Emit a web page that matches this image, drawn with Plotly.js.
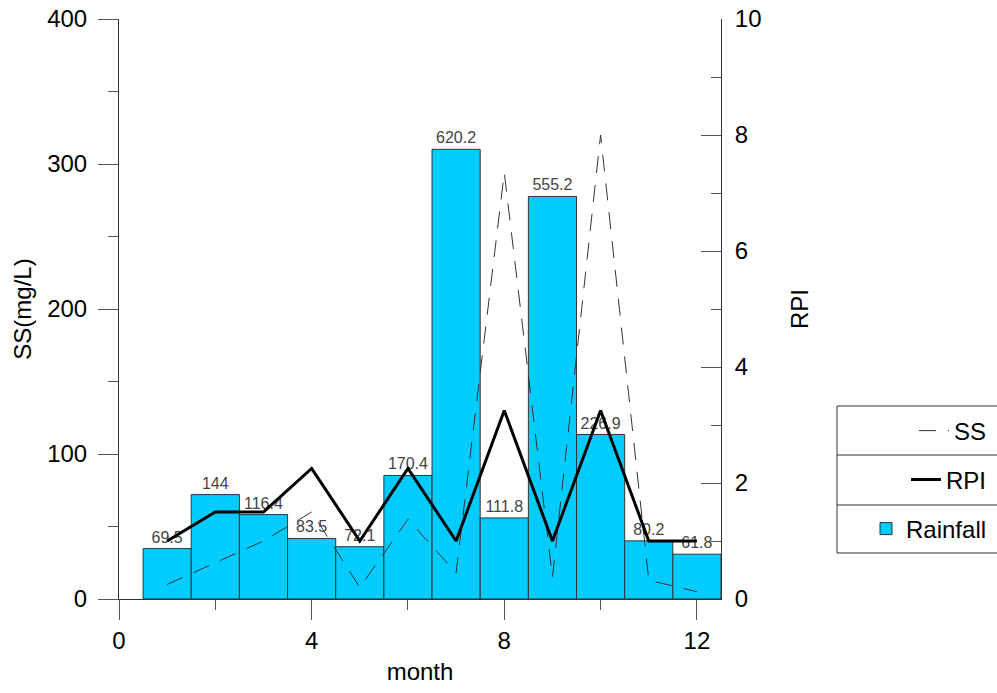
<!DOCTYPE html>
<html>
<head>
<meta charset="utf-8">
<script src="https://cdn.plot.ly/plotly-3.0.1.min.js"></script>
<style>html,body{margin:0;padding:0;background:#fff;}#chart{width:997px;height:693px;}</style>
</head>
<body>
<div id="chart"></div>
<script>
// ---- data ----
const months   = [1, 2, 3, 4, 5, 6, 7, 8, 9, 10, 11, 12];
const rainfall = [69.5, 144, 116.4, 83.5, 72.1, 170.4, 620.2, 111.8, 555.2, 226.9, 80.2, 61.8];
const ss       = [10, 25, 40, 60, 8, 55, 18, 294, 15, 320, 13, 5];
const rpi      = [1.0, 1.5, 1.5, 2.25, 1.0, 2.25, 1.0, 3.25, 1.0, 3.25, 1.0, 1.0];
const rainfallLabels = rainfall.map(String);

const FONT = 'Liberation Sans, Arial, Helvetica, sans-serif';
const AX = '#333333';

// plot area in pixels (for converting legend-box positions to paper coords)
const L = 119, R = 721, T = 19, B = 599, W = 997, H = 693;
const px = v => (v - L) / (R - L);
const py = v => (B - v) / (B - T);

const traces = [
  {
    type: 'bar', name: 'Rainfall', x: months, y: rainfall, yaxis: 'y',
    width: 1,
    marker: {color: '#00CCFF', line: {color: '#333333', width: 1}},
    text: rainfallLabels, textposition: 'outside', constraintext: 'none',
    cliponaxis: false,
    textfont: {family: FONT, size: 16, color: '#444444'},
    legend: 'legend3', hoverinfo: 'skip'
  },
  {
    type: 'scatter', mode: 'lines', name: 'SS', x: months, y: ss, yaxis: 'y2',
    line: {color: '#333333', width: 1, dash: '17px,12px'},
    legend: 'legend', hoverinfo: 'skip'
  },
  {
    type: 'scatter', mode: 'lines', name: 'RPI', x: months, y: rpi, yaxis: 'y3',
    line: {color: '#000000', width: 3},
    legend: 'legend2', hoverinfo: 'skip'
  }
];

const legBase = {
  xanchor: 'right', yanchor: 'middle', bgcolor: 'rgba(0,0,0,0)', borderwidth: 0,
  font: {family: FONT, size: 24, color: '#000'}
};

const layout = {
  width: W, height: H,
  margin: {l: L, r: W - R, t: T, b: H - B, pad: 0, autoexpand: false},
  paper_bgcolor: '#ffffff', plot_bgcolor: '#ffffff',
  font: {family: FONT, size: 24, color: '#000'},
  bargap: 0,
  showlegend: true,
  xaxis: {
    range: [0, 12.5], dtick: 4, tick0: 0,
    showgrid: false, zeroline: false,
    showline: true, linecolor: AX, linewidth: 1,
    ticks: 'outside', ticklen: 20, tickcolor: '#555', tickwidth: 1,
    minor: {dtick: 2, ticks: 'outside', ticklen: 10, tickcolor: '#555', showgrid: false},
    tickfont: {family: FONT, size: 24, color: '#000'},
    title: {text: 'month', font: {family: FONT, size: 24, color: '#000'}, standoff: 10}
  },
  yaxis: {
    range: [0, 800], visible: false, showgrid: false, zeroline: false, fixedrange: true
  },
  yaxis2: {
    overlaying: 'y', side: 'left', range: [0, 400], dtick: 100,
    showgrid: false, zeroline: false,
    showline: true, linecolor: AX, linewidth: 1,
    ticks: 'outside', ticklen: 20, tickcolor: '#555', tickwidth: 1,
    minor: {dtick: 50, ticks: 'outside', ticklen: 10, tickcolor: '#555', showgrid: false},
    ticklabelstandoff: 6,
    tickfont: {family: FONT, size: 24, color: '#000'},
    title: {text: 'SS(mg/L)', font: {family: FONT, size: 24, color: '#000'}, standoff: 8}
  },
  yaxis3: {
    overlaying: 'y', side: 'right', range: [0, 10], dtick: 2,
    showgrid: false, zeroline: false,
    showline: true, linecolor: AX, linewidth: 1,
    ticks: 'inside', ticklen: 20, tickcolor: '#555', tickwidth: 1,
    minor: {dtick: 1, ticks: 'inside', ticklen: 10, tickcolor: '#555', showgrid: false},
    ticklabelstandoff: 8,
    tickfont: {family: FONT, size: 24, color: '#000'},
    title: {text: 'RPI', font: {family: FONT, size: 24, color: '#000'}, standoff: 30}
  },
  legend:  Object.assign({}, legBase, {x: px(992), y: py(431)}),
  legend2: Object.assign({}, legBase, {x: px(992), y: py(480)}),
  legend3: Object.assign({}, legBase, {x: px(992), y: py(529)}),
  shapes: [
    {type: 'rect', xref: 'paper', yref: 'paper', x0: px(837), x1: px(1005), y0: py(553), y1: py(406),
     line: {color: '#333', width: 1}, fillcolor: 'rgba(0,0,0,0)'},
    {type: 'line', xref: 'paper', yref: 'paper', x0: px(837), x1: px(1005), y0: py(455), y1: py(455),
     line: {color: '#333', width: 1}},
    {type: 'line', xref: 'paper', yref: 'paper', x0: px(837), x1: px(1005), y0: py(505), y1: py(505),
     line: {color: '#333', width: 1}}
  ]
};

Plotly.newPlot('chart', traces, layout, {staticPlot: true, displayModeBar: false});
</script>
</body>
</html>
